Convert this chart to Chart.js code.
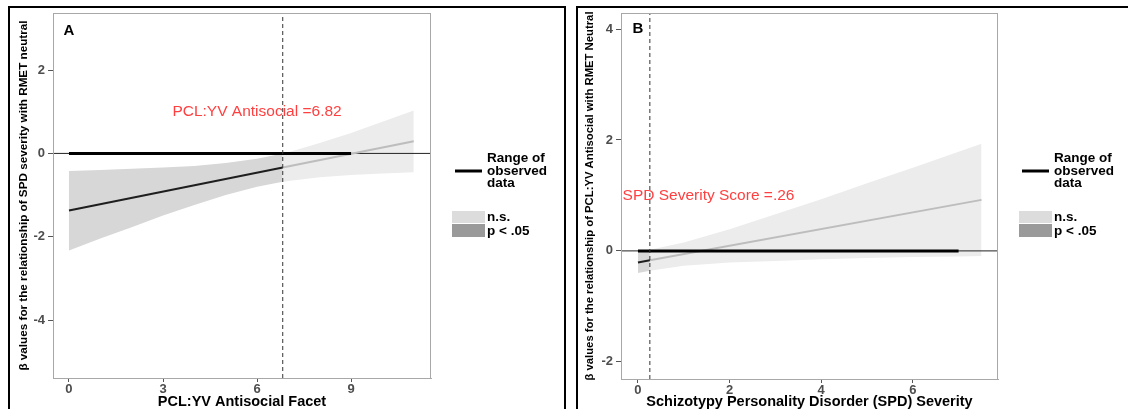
<!DOCTYPE html>
<html><head><meta charset="utf-8">
<script src="https://cdn.jsdelivr.net/npm/chart.js@4.4.1/dist/chart.umd.min.js"></script>
<style>
html,body{margin:0;padding:0;background:#fff;overflow:hidden;width:1128px;height:409px;}
#wrap{position:relative;width:1128px;height:409px;overflow:hidden;}
canvas{position:absolute;top:0;}
#cA{left:0;}
#cB{left:566px;}
.frame{position:absolute;border:2px solid #000;box-sizing:border-box;pointer-events:none;}
</style></head><body>
<div id="wrap">
<canvas id="cA" width="560" height="409"></canvas>
<canvas id="cB" width="562" height="409"></canvas>
<div class="frame" style="left:8px;top:6px;width:558px;height:430px;"></div>
<div class="frame" style="left:576px;top:6px;width:600px;height:430px;"></div>
</div>
<script>
// ---------- Panel A data ----------
const aLetter = 'A';
const aBandX     = [0, 1, 2, 3, 4, 5, 6, 6.82, 7, 8, 9, 10, 11];
const aBandUpper = [-0.42, -0.40, -0.37, -0.34, -0.30, -0.23, -0.13, 0.00, 0.03, 0.25, 0.49, 0.76, 1.03];
const aBandLower = [-2.33, -2.04, -1.77, -1.49, -1.24, -1.00, -0.80, -0.68, -0.66, -0.57, -0.52, -0.48, -0.45];
const aLineX = [0, 6.82, 11];
const aLineY = [-1.37, -0.34, 0.29];
const aRangeX = [0, 9];
const aThreshold = 6.82;
const aXTicks = [0, 3, 6, 9];
const aYTicks = [-4, -2, 0, 2];
const aXTitle = 'PCL:YV Antisocial Facet';
const aYTitle = 'β values for the relationship of SPD severity with RMET neutral';
const aNote = 'PCL:YV Antisocial =6.82';

// ---------- Panel B data ----------
const bLetter = 'B';
const bBandX     = [0, 0.26, 1, 2, 3, 4, 5, 6, 7, 7.5];
const bBandUpper = [-0.02, 0.02, 0.15, 0.39, 0.66, 0.93, 1.22, 1.50, 1.79, 1.93];
const bBandLower = [-0.40, -0.36, -0.27, -0.21, -0.18, -0.15, -0.13, -0.11, -0.10, -0.09];
const bLineX = [0, 0.26, 7.5];
const bLineY = [-0.21, -0.17, 0.92];
const bRangeX = [0, 7];
const bThreshold = 0.26;
const bXTicks = [0, 2, 4, 6];
const bYTicks = [-2, 0, 2, 4];
const bXTitle = 'Schizotypy Personality Disorder (SPD) Severity';
const bYTitle = 'β values for the relationship of PCL:YV Antisocial with RMET Neutral';
const bNote = 'SPD Severity Score =.26';

// ---------- Legend labels ----------
const legendLineLabels = ['Range of', 'observed', 'data'];
const legendFillLabels = ['n.s.', 'p < .05'];

const FONT = "'Liberation Sans', Arial, Helvetica, sans-serif";
const DARK_BAND = '#d7d7d7', LIGHT_BAND = '#ececec';
const DARK_LINE = '#1e1e1e', LIGHT_LINE = '#bdbdbd';
const RED = '#ff4040';

function pts(xs, ys) { return xs.map((x, i) => ({x: x, y: ys[i]})); }

const decor = {
  id: 'decor',
  afterDraw(chart, args, o) {
    const ctx = chart.ctx, ca = chart.chartArea;
    const xs = chart.scales.x, ys = chart.scales.y;
    ctx.save();
    // panel border
    ctx.strokeStyle = '#a8a8a8'; ctx.lineWidth = 1;
    ctx.strokeRect(ca.left + 0.5, ca.top + 0.5, ca.right - ca.left - 1, ca.bottom - ca.top);
    // letter
    ctx.fillStyle = '#000';
    ctx.font = 'bold 15px ' + FONT;
    ctx.textAlign = 'center'; ctx.textBaseline = 'middle';
    ctx.fillText(o.letter, xs.getPixelForValue(o.letterPos[0]), ys.getPixelForValue(o.letterPos[1]));
    // note
    ctx.fillStyle = RED;
    ctx.font = '15.5px ' + FONT;
    ctx.fillText(o.note, xs.getPixelForValue(o.notePos[0]), ys.getPixelForValue(o.notePos[1]));
    // legend
    const R = ca.right;
    ctx.strokeStyle = '#000'; ctx.lineWidth = 3;
    ctx.beginPath(); ctx.moveTo(R + 24, 171); ctx.lineTo(R + 51, 171); ctx.stroke();
    ctx.fillStyle = '#000';
    ctx.font = 'bold 13.5px ' + FONT;
    ctx.textAlign = 'left';
    legendLineLabels.forEach((t, i) => ctx.fillText(t, R + 56, 158.5 + i * 12.5));
    ctx.fillStyle = '#dcdcdc'; ctx.fillRect(R + 21, 211, 33, 12);
    ctx.fillStyle = '#9a9a9a'; ctx.fillRect(R + 21, 224, 33, 13);
    ctx.fillStyle = '#000';
    ctx.fillText(legendFillLabels[0], R + 56, 217);
    ctx.fillText(legendFillLabels[1], R + 56, 231);
    ctx.restore();
  }
};

function makePanel(id, d) {
  const below = p => p.x <= d.thr, above = p => p.x >= d.thr;
  const up = pts(d.bandX, d.upper), lo = pts(d.bandX, d.lower), ln = pts(d.lineX, d.lineY);
  const base = {showLine: true, pointRadius: 0, pointHoverRadius: 0, fill: false, tension: 0};
  const datasets = [
    Object.assign({}, base, {label: 'darkLo', data: lo.filter(below), borderWidth: 0, borderColor: 'rgba(0,0,0,0)', order: 20}),
    Object.assign({}, base, {label: 'darkUp', data: up.filter(below), borderWidth: 0, borderColor: 'rgba(0,0,0,0)', fill: '-1', backgroundColor: DARK_BAND, order: 19}),
    Object.assign({}, base, {label: 'lightLo', data: lo.filter(above), borderWidth: 0, borderColor: 'rgba(0,0,0,0)', order: 18}),
    Object.assign({}, base, {label: 'lightUp', data: up.filter(above), borderWidth: 0, borderColor: 'rgba(0,0,0,0)', fill: '-1', backgroundColor: LIGHT_BAND, order: 17}),
    Object.assign({}, base, {label: 'zero', data: [{x: d.xmin, y: 0}, {x: d.xmax, y: 0}], borderColor: '#222', borderWidth: 1, order: 6}),
    Object.assign({}, base, {label: 'fitLight', data: ln.filter(above), borderColor: LIGHT_LINE, borderWidth: 2, order: 5}),
    Object.assign({}, base, {label: 'fitDark', data: ln.filter(below), borderColor: DARK_LINE, borderWidth: 2, order: 4}),
    Object.assign({}, base, {label: 'range', data: d.rangeX.map(x => ({x: x, y: 0})), borderColor: '#000', borderWidth: 3, order: 3}),
    Object.assign({}, base, {label: 'vline', data: [{x: d.thr, y: d.ymin}, {x: d.thr, y: d.ymax}], borderColor: '#333', borderWidth: 1, borderDash: [4, 3], order: 1})
  ];
  return new Chart(document.getElementById(id), {
    type: 'scatter',
    data: {datasets: datasets},
    plugins: [decor],
    options: {
      responsive: false, animation: false, events: [],
      layout: {padding: {left: 0, top: d.padTop, right: d.padRight, bottom: 0}},
      plugins: {
        legend: {display: false}, tooltip: {enabled: false},
        decor: {letter: d.letter, letterPos: d.letterPos, note: d.note, notePos: d.notePos}
      },
      scales: {
        x: {
          type: 'linear', min: d.xmin, max: d.xmax,
          afterBuildTicks: s => { s.ticks = d.xTicks.map(v => ({value: v})); },
          afterFit: s => { s.height = d.xH; },
          grid: {display: true, drawOnChartArea: false, tickLength: 4, tickColor: '#555', tickWidth: 1},
          border: {display: true, color: '#a8a8a8', width: 1},
          ticks: {color: '#4d4d4d', font: {family: FONT, size: 13, weight: 'bold', lineHeight: 1}, padding: 1, maxRotation: 0, autoSkip: false},
          title: {display: true, text: d.xTitle, color: '#000', font: {family: FONT, size: 14.5, weight: 'bold', lineHeight: 1}, padding: {top: 0, bottom: 0}}
        },
        y: {
          type: 'linear', min: d.ymin, max: d.ymax,
          afterBuildTicks: s => { s.ticks = d.yTicks.map(v => ({value: v})); },
          afterFit: s => { s.width = d.yW; },
          grid: {display: true, drawOnChartArea: false, tickLength: 5, tickColor: '#555', tickWidth: 1},
          border: {display: true, color: '#a8a8a8', width: 1},
          ticks: {color: '#4d4d4d', font: {family: FONT, size: 13, weight: 'bold'}, padding: 3, autoSkip: false},
          title: {display: true, text: d.yTitle, color: '#000', font: {family: FONT, size: d.yTitleSize, weight: 'bold', lineHeight: 1.2}, padding: {top: 17, bottom: 0}}
        }
      }
    }
  });
}

makePanel('cA', {
  bandX: aBandX, upper: aBandUpper, lower: aBandLower, lineX: aLineX, lineY: aLineY,
  rangeX: aRangeX, thr: aThreshold, xTicks: aXTicks, yTicks: aYTicks,
  xTitle: aXTitle, yTitle: aYTitle, note: aNote, letter: aLetter,
  xmin: -0.51, xmax: 11.55, ymin: -5.39, ymax: 3.37,
  letterPos: [0, 2.95], notePos: [6, 1],
  padTop: 13, padRight: 129, xH: 31, yW: 53, yTitleSize: 11.7
});
makePanel('cB', {
  bandX: bBandX, upper: bBandUpper, lower: bBandLower, lineX: bLineX, lineY: bLineY,
  rangeX: bRangeX, thr: bThreshold, xTicks: bXTicks, yTicks: bYTicks,
  xTitle: bXTitle, yTitle: bYTitle, note: bNote, letter: bLetter,
  xmin: -0.37, xmax: 7.86, ymin: -2.31, ymax: 4.29,
  letterPos: [0, 4], notePos: [1.54, 1],
  padTop: 13, padRight: 130, xH: 30, yW: 55, yTitleSize: 11.3
});
</script>
</body></html>
